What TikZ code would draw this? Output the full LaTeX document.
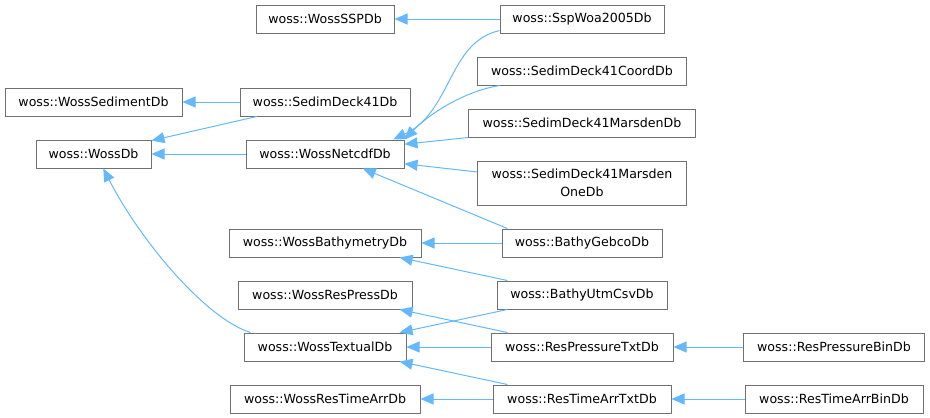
\documentclass[tikz,border=0pt]{standalone}
\usepackage{fontspec}
\setmainfont{DejaVu Sans}
\usetikzlibrary{shapes,arrows.meta}
\definecolor{edgeblue}{HTML}{63B8FF}
\definecolor{boxgray}{HTML}{707070}
\tikzstyle{block} = [rectangle, draw=boxgray, fill=white, line width=1pt,
minimum height=28pt, inner sep=0pt, align=center, font=\fontsize{12.6}{17.7}\selectfont]
\tikzstyle{line} = [draw=edgeblue, line width=1pt, -{Triangle[length=13pt,width=11pt]}]
\begin{document}
\begin{tikzpicture}[x=1pt, y=-1pt, node distance=52pt]
\useasboundingbox (0,0) rectangle (930,418);
% Place nodes
\node [block, minimum width=115pt] (wossdb) at (93.5,154) {woss::WossDb};
\node [block, minimum width=177pt, above of=wossdb] (sediment) {woss::WossSedimentDb};
\node [block, minimum width=158pt, right of=wossdb, node distance=231.5pt] (netcdf) {woss::WossNetcdfDb};
\node [block, minimum width=170pt, above of=netcdf] (sedim41) {woss::SedimDeck41Db};
\node [block, minimum width=138pt, above of=sedim41, node distance=83pt] (sspdb) {woss::WossSSPDb};
\node [block, minimum width=192pt, below of=netcdf, node distance=89pt] (bathy) {woss::WossBathymetryDb};
\node [block, minimum width=174pt, below of=bathy] (respress) {woss::WossResPressDb};
\node [block, minimum width=162pt, below of=respress] (textual) {woss::WossTextualDb};
\node [block, minimum width=190pt, below of=textual] (restime) {woss::WossResTimeArrDb};
\node [block, minimum width=164pt, right of=sspdb, node distance=257pt] (sspwoa) {woss::SspWoa2005Db};
\node [block, minimum width=209pt, below of=sspwoa] (coord) {woss::SedimDeck41CoordDb};
\node [block, minimum width=227pt, below of=coord] (marsden) {woss::SedimDeck41MarsdenDb};
\node [block, minimum width=209pt, minimum height=44pt, below of=marsden, node distance=60pt] (marsdenone) {woss::SedimDeck41Marsden\\OneDb};
\node [block, minimum width=160pt, right of=bathy, node distance=257pt] (gebco) {woss::BathyGebcoDb};
\node [block, minimum width=170pt, right of=respress, node distance=257pt] (utm) {woss::BathyUtmCsvDb};
\node [block, minimum width=182pt, right of=textual, node distance=257pt] (restxt) {woss::ResPressureTxtDb};
\node [block, minimum width=178pt, right of=restime, node distance=257pt] (timetxt) {woss::ResTimeArrTxtDb};
\node [block, minimum width=181pt, right of=restxt, node distance=252pt] (resbin) {woss::ResPressureBinDb};
\node [block, minimum width=178pt, right of=timetxt, node distance=252pt] (timebin) {woss::ResTimeArrBinDb};
% Draw edges
\path [line] (sspwoa) -- (sspdb);
\path [line] (sspwoa.188) .. controls (448,42) and (452,112) .. (netcdf.12);
\path [line] (coord.190) .. controls (460,92) and (425,118) .. (netcdf.north east);
\path [line] (marsden.south west) -- (netcdf.7);
\path [line] (marsdenone.174) -- (netcdf.353);
\path [line] (gebco.169) -- (netcdf.339);
\path [line] (sedim41) -- (sediment);
\path [line] (sedim41.192) -- (wossdb.13);
\path [line] (netcdf) -- (wossdb);
\path [line] (gebco) -- (bathy);
\path [line] (utm.169) -- (bathy.349);
\path [line] (utm.191) -- (textual.11);
\path [line] (restxt.169) -- (respress.349);
\path [line] (restxt) -- (textual);
\path [line] (timetxt.169) -- (textual.349);
\path [line] (timetxt) -- (restime);
\path [line] (resbin) -- (restxt);
\path [line] (timebin) -- (timetxt);
\path [line] (textual.169) .. controls (205,318) and (140,240) .. (wossdb.304);
\end{tikzpicture}
\end{document}
